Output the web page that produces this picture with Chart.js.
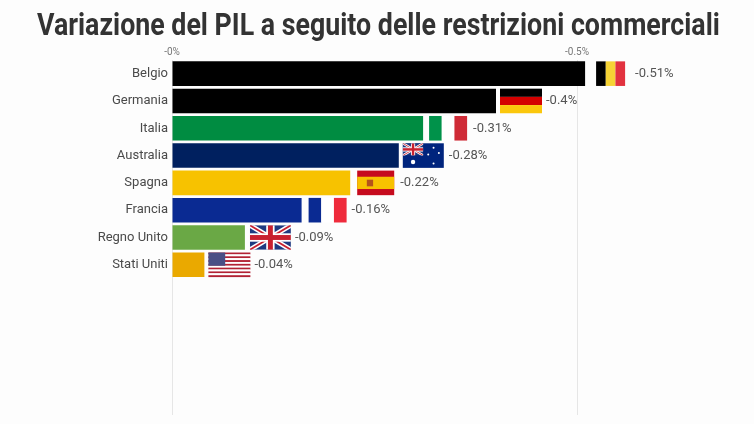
<!DOCTYPE html>
<html>
<head>
<meta charset="utf-8">
<title>Variazione del PIL</title>
<script src="https://cdn.jsdelivr.net/npm/chart.js@4"></script>
<style>
  html, body { margin: 0; padding: 0; background: #fdfdfd; }
  #wrap { position: relative; width: 754px; height: 424px; overflow: hidden; }
  #title {
    position: absolute; left: 0; top: 6px; margin: 0; white-space: nowrap;
    font: 700 31px/38px Roboto, sans-serif; color: #333;
    transform-origin: 0 0;
  }
  canvas { display: block; }
</style>
</head>
<body>
<div id="wrap">
  <canvas id="chart" width="754" height="424"></canvas>
  <h1 id="title">Variazione del PIL a seguito delle restrizioni commerciali</h1>
</div>
<script>
const categories = ["Belgio", "Germania", "Italia", "Australia", "Spagna", "Francia", "Regno Unito", "Stati Uniti"];
const values = [-0.51, -0.4, -0.31, -0.28, -0.22, -0.16, -0.09, -0.04];
const valueLabels = ["-0.51%", "-0.4%", "-0.31%", "-0.28%", "-0.22%", "-0.16%", "-0.09%", "-0.04%"];
const barColors = ["#000000", "#000000", "#008c41", "#00205f", "#f7c200", "#0a2a92", "#6aa845", "#eaa900"];
const tickValues = [0, -0.5];
const tickLabels = ["-0%", "-0.5%"];
// empty rows keep the grid lines running down under the last bar
const emptyRows = ["", "", "", "", ""];

// fit the heading to the width of the original condensed type
const title = document.getElementById("title");
const scale = 683 / title.offsetWidth;
title.style.left = "37px";
title.style.transform = `scaleX(${scale})`;

function stripesV(ctx, x, y, w, h, cols) {
  cols.forEach((c, i) => {
    ctx.fillStyle = c;
    ctx.fillRect(x + w * i / cols.length, y, w / cols.length, h);
  });
}

function stripesH(ctx, x, y, w, h, cols) {
  cols.forEach((c, i) => {
    ctx.fillStyle = c;
    ctx.fillRect(x, y + h * i / cols.length, w, h / cols.length);
  });
}

function unionJack(ctx, x, y, w, h) {
  ctx.save();
  ctx.beginPath();
  ctx.rect(x, y, w, h);
  ctx.clip();
  ctx.fillStyle = "#1f3a80";
  ctx.fillRect(x, y, w, h);
  const diag = (color, width) => {
    ctx.strokeStyle = color;
    ctx.lineWidth = width;
    ctx.beginPath();
    ctx.moveTo(x, y);
    ctx.lineTo(x + w, y + h);
    ctx.moveTo(x + w, y);
    ctx.lineTo(x, y + h);
    ctx.stroke();
  };
  diag("#ffffff", h * 0.2);
  diag("#c8202f", h * 0.07);
  ctx.fillStyle = "#ffffff";
  ctx.fillRect(x + w / 2 - h * 0.17, y, h * 0.34, h);
  ctx.fillRect(x, y + h * 0.33, w, h * 0.34);
  ctx.fillStyle = "#c8202f";
  ctx.fillRect(x + w / 2 - h * 0.1, y, h * 0.2, h);
  ctx.fillRect(x, y + h * 0.4, w, h * 0.2);
  ctx.restore();
}

function star(ctx, x, y, r) {
  ctx.fillStyle = "#ffffff";
  ctx.beginPath();
  ctx.arc(x, y, r, 0, Math.PI * 2);
  ctx.fill();
}

const flags = {
  "Belgio": { gap: 11, width: 29, draw: (c, x, y, w, h) => stripesV(c, x, y, w, h, ["#000000", "#f6d335", "#e2323f"]) },
  "Germania": { gap: 4, width: 42, draw: (c, x, y, w, h) => stripesH(c, x, y, w, h, ["#000000", "#d40000", "#fbc70c"]) },
  "Italia": { gap: 6, width: 38, draw: (c, x, y, w, h) => stripesV(c, x, y, w, h, ["#00924a", "#ffffff", "#cf2b37"]) },
  "Australia": { gap: 4, width: 41, draw: (c, x, y, w, h) => {
    c.fillStyle = "#00247d";
    c.fillRect(x, y, w, h);
    unionJack(c, x, y, w / 2, h / 2);
    star(c, x + w * 0.25, y + h * 0.76, 2.2);
    [[0.75, 0.18], [0.62, 0.46], [0.88, 0.4], [0.75, 0.82]].forEach(p => star(c, x + w * p[0], y + h * p[1], 1));
  } },
  "Spagna": { gap: 7, width: 37, draw: (c, x, y, w, h) => {
    c.fillStyle = "#c60b1e";
    c.fillRect(x, y, w, h);
    c.fillStyle = "#f8c200";
    c.fillRect(x, y + h / 4, w, h / 2);
    c.fillStyle = "#b5541c";
    c.fillRect(x + w * 0.26, y + h * 0.37, w * 0.17, h * 0.27);
  } },
  "Francia": { gap: 7, width: 38, draw: (c, x, y, w, h) => stripesV(c, x, y, w, h, ["#0a2a92", "#ffffff", "#ef2b3c"]) },
  "Regno Unito": { gap: 5, width: 41, draw: unionJack },
  "Stati Uniti": { gap: 4, width: 42, draw: (c, x, y, w, h) => {
    for (let i = 0; i < 13; i++) {
      c.fillStyle = i % 2 ? "#ffffff" : "#b22234";
      c.fillRect(x, y + h * i / 13, w, h / 13);
    }
    c.fillStyle = "#4a4f85";
    c.fillRect(x, y, w * 0.4, h * 7 / 13);
  } }
};

const flagsAndValues = {
  id: "flagsAndValues",
  afterDatasetsDraw(chart) {
    const ctx = chart.ctx;
    chart.getDatasetMeta(0).data.forEach((bar, i) => {
      const name = categories[i];
      const flag = flags[name];
      const h = bar.height;
      flag.draw(ctx, bar.x + flag.gap, bar.y - h / 2, flag.width, h);
      ctx.fillStyle = "#555";
      ctx.font = "13px Roboto, sans-serif";
      ctx.textAlign = "left";
      ctx.textBaseline = "middle";
      ctx.fillText(valueLabels[i], bar.x + 50, bar.y);
    });
  }
};

new Chart(document.getElementById("chart"), {
  type: "bar",
  data: {
    labels: categories.concat(emptyRows),
    datasets: [{
      data: values,
      backgroundColor: barColors,
      barPercentage: 0.9,
      categoryPercentage: 1
    }]
  },
  options: {
    indexAxis: "y",
    responsive: false,
    animation: false,
    layout: { padding: { right: 15, bottom: 9 } },
    plugins: { legend: { display: false }, tooltip: { enabled: false } },
    scales: {
      x: {
        position: "top",
        reverse: true,
        min: -0.7,
        max: 0,
        afterFit(axis) { axis.height = 60; },
        afterBuildTicks(axis) { axis.ticks = tickValues.map(value => ({ value })); },
        ticks: {
          maxRotation: 0,
          padding: 2,
          color: "#777",
          font: { family: "Roboto, sans-serif", size: 10 },
          callback: value => tickLabels[tickValues.indexOf(value)]
        },
        grid: { color: "#e6e6e6", drawTicks: false },
        border: { display: false }
      },
      y: {
        afterFit(axis) {
          axis.width = 172;
          axis.paddingTop = 0;
          axis.paddingBottom = 0;
        },
        ticks: {
          autoSkip: false,
          padding: 4,
          color: "#4a4a4a",
          font: { family: "Roboto, sans-serif", size: 13 }
        },
        grid: { display: false, drawTicks: false },
        border: { display: false }
      }
    }
  },
  plugins: [flagsAndValues]
});
</script>
</body>
</html>
